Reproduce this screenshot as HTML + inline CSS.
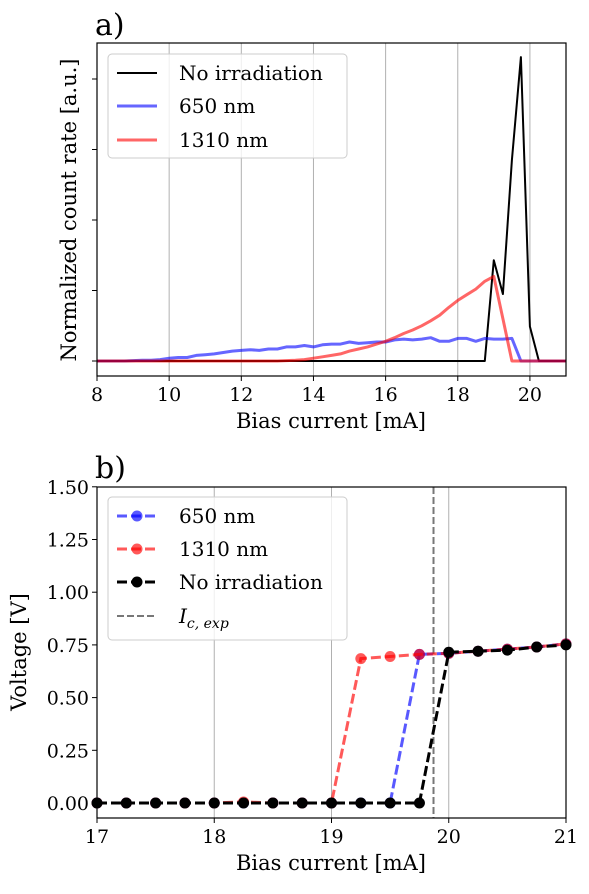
<!DOCTYPE html>
<html><head><meta charset="utf-8"><style>
body{margin:0;background:#fff}
svg text{font-family:"DejaVu Serif","Liberation Serif",serif;fill:#000}
</style></head><body>
<svg id="c" width="589" height="889" xmlns="http://www.w3.org/2000/svg"></svg>
<script>
// Panel a data (x step 0.25 from 8 to 21)
const aX0 = 8, aStep = 0.25;
const blue650 = [0,0,0,0,0.005,0.01,0.01,0.02,0.04,0.05,0.05,0.08,0.09,0.1,0.12,0.14,0.15,0.16,0.15,0.17,0.17,0.2,0.2,0.22,0.2,0.23,0.24,0.24,0.27,0.25,0.26,0.27,0.27,0.3,0.31,0.3,0.31,0.33,0.28,0.28,0.32,0.32,0.28,0.32,0.31,0.31,0.32,0,0,0,0,0,0];
const red1310 = [0,0,0,0,0,0,0,0,0,0,0,0,0,0,0,0,0,0,0,0,0,0.005,0.01,0.02,0.04,0.06,0.08,0.1,0.14,0.17,0.2,0.24,0.28,0.33,0.39,0.44,0.5,0.57,0.65,0.76,0.86,0.94,1.02,1.13,1.2,0.6,0,0,0,0,0,0,0];
const blackNo = [0,0,0,0,0,0,0,0,0,0,0,0,0,0,0,0,0,0,0,0,0,0,0,0,0,0,0,0,0,0,0,0,0,0,0,0,0,0,0,0,0,0,0,0,1.43,0.95,2.85,4.31,0.49,0,0,0,0];
const aXTicks = [8,10,12,14,16,18,20];
const aYTicks = [0,1,2,3,4];
// Panel b data
const bX = [17,17.25,17.5,17.75,18,18.25,18.5,18.75,19,19.25,19.5,19.75,20,20.25,20.5,20.75,21];
const v650 = [0,0,0,0,0,0,0,0,0,0,0,0.705,0.71,0.72,0.73,0.74,0.755];
const v1310 = [0,0,0,0,0,0.005,0,0,0,0.685,0.695,0.705,0.71,0.72,0.73,0.74,0.755];
const vNo = [0,0,0,0,0,0,0,0,0,0,0,0,0.715,0.72,0.725,0.74,0.75];
const icExp = 19.87;
const bXTicks = [17,18,19,20,21];
const bYTicks = [0,0.25,0.5,0.75,1.0,1.25,1.5];

const svg = document.getElementById('c');
const NS = 'http://www.w3.org/2000/svg';
function mk(tag, attrs, parent){const e=document.createElementNS(NS,tag);for(const k in attrs)e.setAttribute(k,attrs[k]);(parent||svg).appendChild(e);return e;}

// Panel a axes
const aL=97,aR=566,aT=43,aB=376;
const ax = v => aL + (v-8)/(21-8)*(aR-aL);
const ay = v => 361 - v*70.5;
const ga = mk('g',{});


aXTicks.forEach(t=>{
  if(t>8){const g=mk('line',{x1:ax(t),x2:ax(t),y1:aT,y2:aB,stroke:'#b0b0b0','stroke-width':1},ga);}
  mk('line',{x1:ax(t),x2:ax(t),y1:aB,y2:aB+5,stroke:'#000'},ga);
  const tx=mk('text',{x:ax(t),y:aB+25,'text-anchor':'middle','font-size':19},ga);tx.textContent=t;
  
});
aYTicks.forEach(t=>{mk('line',{x1:aL-5,x2:aL,y1:ay(t),y2:ay(t),stroke:'#000'},ga);});
function aLine(arr,color,w,name){
  const p=arr.map((v,i)=>(i?'L':'M')+ax(aX0+i*aStep).toFixed(1)+','+ay(v).toFixed(1)).join('');
  const e=mk('path',{d:p,fill:'none',stroke:color,'stroke-width':w,'stroke-linejoin':'round'},ga);
  
}
aLine(blackNo,'#000',2,'line-no-irradiation');
aLine(blue650,'rgba(0,0,255,0.6)',3,'line-650nm');
aLine(red1310,'rgba(255,0,0,0.6)',3,'line-1310nm');
mk('rect',{x:aL,y:aT,width:aR-aL,height:aB-aT,fill:'none',stroke:'#000','stroke-width':1.2},ga);
let t=mk('text',{x:95,y:35,'font-size':30},ga);t.textContent='a)';
t=mk('text',{x:331,y:428,'text-anchor':'middle','font-size':21},ga);t.textContent='Bias current [mA]';
t=mk('text',{x:0,y:0,'text-anchor':'middle','font-size':21,transform:'translate(76,210) rotate(-90)'},ga);t.textContent='Normalized count rate [a.u.]';
// legend a
const la=mk('g',{},ga);
mk('rect',{x:108,y:54,width:239,height:104,rx:4,fill:'#fff','fill-opacity':0.8,stroke:'#ccc'},la);
[['No irradiation','#000',2,73],['650 nm','rgba(0,0,255,0.6)',3,106],['1310 nm','rgba(255,0,0,0.6)',3,140]].forEach(d=>{
  mk('line',{x1:117,x2:157,y1:d[3],y2:d[3],stroke:d[1],'stroke-width':d[2]},la);
  const tt=mk('text',{x:179,y:d[3]+7,'font-size':20},la);tt.textContent=d[0];
  
});

// Panel b
const bL=97,bR=566,bT=487,bB=818;
const bx = v => bL + (v-17)/(21-17)*(bR-bL);
const by = v => 803 - v/0.25*52.7;
const gb=mk('g',{});
bXTicks.forEach(v=>{
  if(v>17&&v<21){const g=mk('line',{x1:bx(v),x2:bx(v),y1:bT,y2:bB,stroke:'#b0b0b0'},gb);}
  mk('line',{x1:bx(v),x2:bx(v),y1:bB,y2:bB+5,stroke:'#000'},gb);
  const tx=mk('text',{x:bx(v),y:bB+25,'text-anchor':'middle','font-size':19},gb);tx.textContent=v;
  
});
bYTicks.forEach(v=>{
  mk('line',{x1:bL-5,x2:bL,y1:by(v),y2:by(v),stroke:'#000'},gb);
  const tx=mk('text',{x:bL-8,y:by(v)+7,'text-anchor':'end','font-size':19},gb);tx.textContent=v.toFixed(2);
  
});
const vl=mk('line',{x1:bx(icExp),x2:bx(icExp),y1:bT,y2:bB,stroke:'#777','stroke-width':2,'stroke-dasharray':'7,3'},gb);

function bSeries(arr,color,name){
  const g=mk('g',{},gb);
  const p=arr.map((v,i)=>(i?'L':'M')+bx(bX[i]).toFixed(1)+','+by(v).toFixed(1)).join('');
  mk('path',{d:p,fill:'none',stroke:color,'stroke-width':3,'stroke-dasharray':'10,4'},g);
  arr.forEach((v,i)=>{const c=mk('circle',{cx:bx(bX[i]),cy:by(v),r:5.5,fill:color},g);});
}
bSeries(v650,'rgba(0,0,255,0.65)','series-650nm');
bSeries(v1310,'rgba(255,0,0,0.65)','series-1310nm');
bSeries(vNo,'#000','series-no-irradiation');
mk('rect',{x:bL,y:bT,width:bR-bL,height:bB-bT,fill:'none',stroke:'#000','stroke-width':1.2},gb);
t=mk('text',{x:95,y:478,'font-size':30},gb);t.textContent='b)';
t=mk('text',{x:331,y:870,'text-anchor':'middle','font-size':21},gb);t.textContent='Bias current [mA]';
t=mk('text',{x:0,y:0,'text-anchor':'middle','font-size':21,transform:'translate(26,652) rotate(-90)'},gb);t.textContent='Voltage [V]';
const lb=mk('g',{},gb);
mk('rect',{x:108,y:497,width:239,height:143,rx:4,fill:'#fff','fill-opacity':0.8,stroke:'#ccc'},lb);
[['650 nm','rgba(0,0,255,0.65)',516],['1310 nm','rgba(255,0,0,0.65)',549],['No irradiation','#000',582]].forEach(d=>{
  mk('line',{x1:117,x2:157,y1:d[2],y2:d[2],stroke:d[1],'stroke-width':3,'stroke-dasharray':'10,4'},lb);
  mk('circle',{cx:137,cy:d[2],r:5.5,fill:d[1]},lb);
  const tt=mk('text',{x:179,y:d[2]+7,'font-size':20},lb);tt.textContent=d[0];
  
});
mk('line',{x1:117,x2:157,y1:616,y2:616,stroke:'#777','stroke-width':2,'stroke-dasharray':'7,3'},lb);
const ic=mk('text',{x:179,y:623,'font-size':20,'font-style':'italic'},lb);
ic.innerHTML='I<tspan font-size="14" dy="5">c, exp</tspan>';

</script>
</body></html>
